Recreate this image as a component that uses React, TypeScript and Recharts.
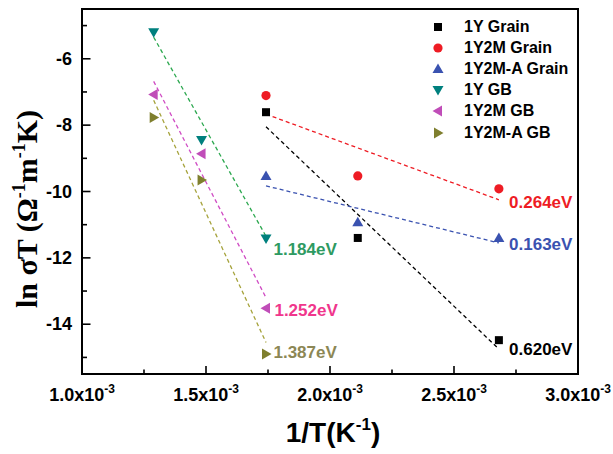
import React from 'react';
import { ScatterChart, Scatter, XAxis, YAxis, ReferenceLine, ReferenceArea, Legend } from 'recharts';

// 1/T values (K^-1) of the three measured temperatures for each group
const grainX = [1.742e-3, 2.112e-3, 2.681e-3];
const gbX = [1.289e-3, 1.482e-3, 1.742e-3];

// ln(sigma*T)
const y1YGrain = [-7.61, -11.4, -14.48];
const y1Y2MGrain = [-7.11, -9.53, -9.92];
const y1Y2MAGrain = [-9.53, -10.93, -11.4];
const y1YGB = [-5.2, -8.45, -11.42];
const y1Y2MGB = [-7.08, -8.86, -13.52];
const y1Y2MAGB = [-7.77, -9.65, -14.9];

const seriesNames = ['1Y Grain', '1Y2M Grain', '1Y2M-A Grain', '1Y GB', '1Y2M GB', '1Y2M-A GB'];

// dashed Arrhenius fits: start and end points
const fitX0 = [1.742e-3, 1.742e-3, 1.742e-3, 1.289e-3, 1.289e-3, 1.289e-3];
const fitY0 = [-8.05, -7.67, -9.83, -5.35, -6.68, -7.25];
const fitX1 = [2.681e-3, 2.681e-3, 2.681e-3, 1.742e-3, 1.742e-3, 1.742e-3];
const fitY1 = [-14.75, -10.25, -11.55, -11.35, -13.2, -14.55];

// activation energies and where they are written
const energies = ['0.620eV', '0.264eV', '0.163eV', '1.184eV', '1.252eV', '1.387eV'];
const energyX = [2.722e-3, 2.722e-3, 2.722e-3, 1.772e-3, 1.776e-3, 1.772e-3];
const energyY = [-14.75, -10.31, -11.57, -11.72, -13.58, -14.84];

const xTicks = [0.001, 0.00125, 0.0015, 0.00175, 0.002, 0.00225, 0.0025, 0.00275, 0.003];
const yTicks = [-15, -14, -13, -12, -11, -10, -9, -8, -7, -6, -5];

const shapes = ['square', 'circle', 'up', 'down', 'left', 'right'];
const markerColors = ['#000000', '#ee1c24', '#3a52b0', '#00807e', '#c04db8', '#7f7f2e'];
const lineColors = ['#000000', '#ee1c24', '#3a52b0', '#2ca84f', '#d04cc4', '#a6a33c'];
const energyColors = ['#000000', '#ee1c24', '#3a52b0', '#2e9a62', '#f0368c', '#8c8755'];

const allY = [y1YGrain, y1Y2MGrain, y1Y2MAGrain, y1YGB, y1Y2MGB, y1Y2MAGB];
const series = seriesNames.map((name, i) => ({
  name,
  data: (i < 3 ? grainX : gbX).map((x, j) => ({ x, y: allY[i][j] })),
}));

const energyData = energies.map((text, i) => ({ x: energyX[i], y: energyY[i], text, color: energyColors[i] }));

const sans = '"Liberation Sans", Arial, sans-serif';
const serif = '"Liberation Serif", "Times New Roman", serif';

function Marker({ kind, cx, cy, fill }: any) {
  switch (kind) {
    case 'square':
      return <rect x={cx - 4} y={cy - 4} width={8} height={8} fill={fill} />;
    case 'circle':
      return <circle cx={cx} cy={cy} r={4.6} fill={fill} />;
    case 'up':
      return <polygon points={`${cx},${cy - 5.5} ${cx + 5.5},${cy + 4} ${cx - 5.5},${cy + 4}`} fill={fill} />;
    case 'down':
      return <polygon points={`${cx - 5.5},${cy - 4} ${cx + 5.5},${cy - 4} ${cx},${cy + 5.5}`} fill={fill} />;
    case 'left':
      return <polygon points={`${cx - 5.5},${cy} ${cx + 4},${cy - 5.5} ${cx + 4},${cy + 5.5}`} fill={fill} />;
    default:
      return <polygon points={`${cx + 5.5},${cy} ${cx - 4},${cy - 5.5} ${cx - 4},${cy + 5.5}`} fill={fill} />;
  }
}

function XTick({ x, y, payload, index }: any) {
  const major = index % 2 === 0;
  return (
    <g>
      <line x1={x} x2={x} y1={y} y2={y - (major ? 8 : 4.5)} stroke="#000" strokeWidth={1.6} />
      {major && (
        <text x={x} y={y + 27} textAnchor="middle" fontFamily={sans} fontWeight="bold" fontSize={18} fill="#000">
          {(payload.value * 1000).toFixed(1)}x10
          <tspan dy={-8} fontSize={12}>-3</tspan>
        </text>
      )}
    </g>
  );
}

function YTick({ x, y, payload }: any) {
  const major = payload.value % 2 === 0;
  return (
    <g>
      <line x1={x} x2={x + (major ? 8.5 : 5)} y1={y} y2={y} stroke="#000" strokeWidth={1.6} />
      {major && (
        <text x={x - 10} y={y + 6} textAnchor="end" fontFamily={sans} fontWeight="bold" fontSize={18} fill="#000">
          {payload.value}
        </text>
      )}
    </g>
  );
}

function YLabel({ viewBox }: any) {
  const cx = viewBox.x + 37;
  const cy = viewBox.y + 200;
  return (
    <text x={cx} y={cy} transform={`rotate(-90, ${cx}, ${cy})`} textAnchor="middle" fontFamily={serif} fontWeight="bold" fontSize={30} fill="#000">
      ln σT (Ω<tspan dy={-12} fontSize={18}>-1</tspan>
      <tspan dy={12}>m</tspan>
      <tspan dy={-12} fontSize={18}>-1</tspan>
      <tspan dy={12}>K)</tspan>
    </text>
  );
}

function XLabel({ viewBox }: any) {
  const cx = viewBox.x + viewBox.width / 2 + 3;
  const cy = viewBox.y + 68;
  return (
    <text x={cx} y={cy} textAnchor="middle" fontFamily={sans} fontWeight="bold" fontSize={28} fill="#000">
      1/T(K<tspan dy={-12} fontSize={17}>-1</tspan>
      <tspan dy={12}>)</tspan>
    </text>
  );
}

function LegendBox() {
  return (
    <div style={{ fontFamily: sans, fontWeight: 'bold', fontSize: 16, color: '#000' }}>
      {seriesNames.map((name, i) => (
        <div key={name} style={{ display: 'flex', alignItems: 'center', height: 21.2 }}>
          <svg width={16} height={16} style={{ marginRight: 18 }}>
            <Marker kind={shapes[i]} cx={8} cy={8} fill={markerColors[i]} />
          </svg>
          <span>{name}</span>
        </div>
      ))}
    </div>
  );
}

export default function App() {
  return (
    <div style={{ position: 'absolute', left: 0, top: 0, background: '#fff' }}>
      <ScatterChart width={613} height={454} margin={{ top: 9, right: 35, bottom: 0, left: 0 }}>
        <XAxis
          type="number"
          dataKey="x"
          domain={[0.001, 0.003]}
          ticks={xTicks}
          interval={0}
          height={80}
          axisLine={false}
          tickLine={false}
          tickSize={0}
          tickMargin={0}
          tick={<XTick />}
          label={<XLabel />}
        />
        <YAxis
          type="number"
          dataKey="y"
          domain={[-15.5, -4.5]}
          ticks={yTicks}
          interval={0}
          width={82}
          axisLine={false}
          tickLine={false}
          tickSize={0}
          tickMargin={0}
          tick={<YTick />}
          label={<YLabel />}
        />
        <ReferenceArea x1={0.001} x2={0.003} y1={-15.5} y2={-4.5} fill="none" stroke="#000" strokeWidth={2} />
        {seriesNames.map((name, i) => (
          <ReferenceLine
            key={'fit' + name}
            segment={[{ x: fitX0[i], y: fitY0[i] }, { x: fitX1[i], y: fitY1[i] }]}
            stroke={lineColors[i]}
            strokeWidth={1.3}
            strokeDasharray="4 3"
          />
        ))}
        {series.map((s, i) => (
          <Scatter
            key={s.name}
            name={s.name}
            data={s.data}
            fill={markerColors[i]}
            isAnimationActive={false}
            shape={(p: any) => <Marker kind={shapes[i]} cx={p.cx} cy={p.cy} fill={markerColors[i]} />}
          />
        ))}
        <Scatter
          name="energies"
          data={energyData}
          isAnimationActive={false}
          shape={(p: any) => (
            <text x={p.cx} y={p.cy + 6} fontFamily={sans} fontWeight="bold" fontSize={17} fill={p.payload.color}>
              {p.payload.text}
            </text>
          )}
        />
        <Legend
          layout="vertical"
          align="center"
          verticalAlign="middle"
          content={<LegendBox />}
          wrapperStyle={{ position: 'absolute', left: 430, top: 16, width: 170 }}
        />
      </ScatterChart>
    </div>
  );
}
